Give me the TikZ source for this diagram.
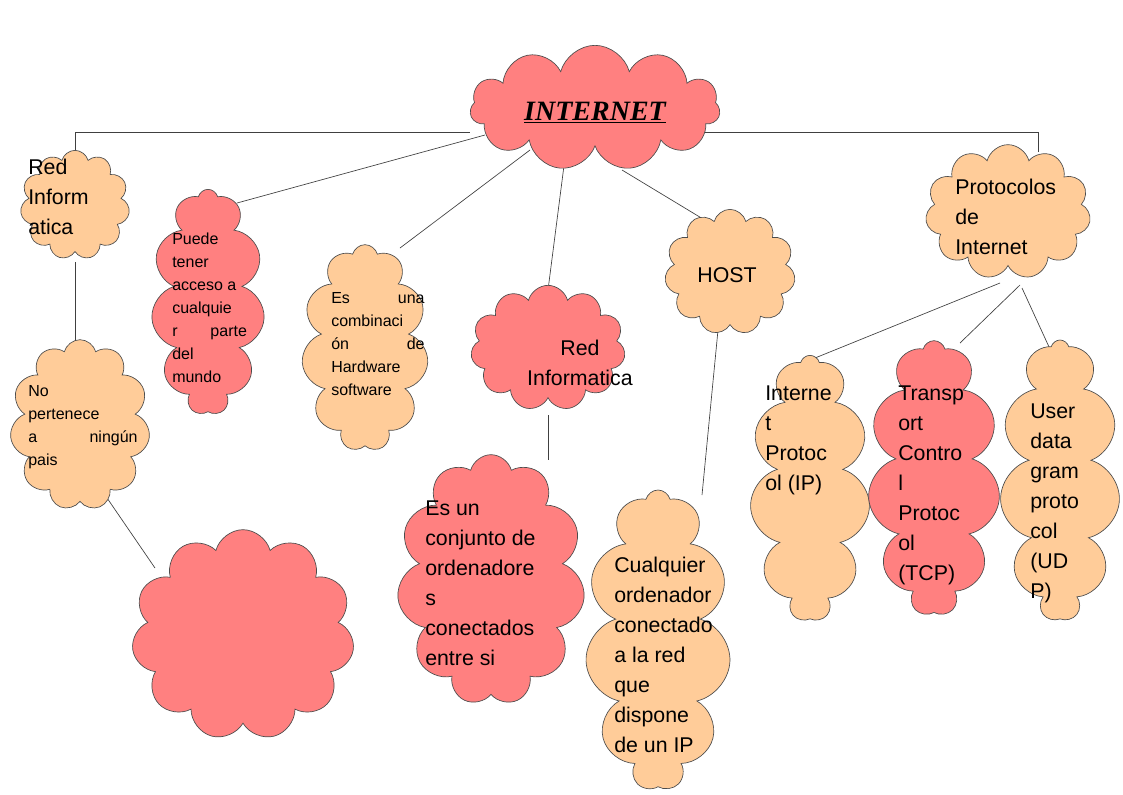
\documentclass[tikz,border=0pt]{standalone}
\usepackage{fontspec}
\setmainfont{Liberation Sans}
\newfontfamily\serifb{Liberation Serif}
\usetikzlibrary{shapes.symbols}
\definecolor{cred}{HTML}{FF8080}
\definecolor{cpeach}{HTML}{FFCC99}
\begin{document}
\begin{tikzpicture}[x=0.75pt,y=-0.75pt,
  cl/.style={cloud,cloud puffs=11,cloud ignores aspect,draw=black!70,line width=0.5pt,inner sep=0},
  redc/.style={cl,fill=cred},
  pc/.style={cl,fill=cpeach},
  big/.style={anchor=north west,align=left,inner sep=0,font=\fontsize{16}{22.5}\selectfont},
  sm/.style={anchor=north west,align=left,inner sep=0,font=\fontsize{12}{17.25}\selectfont},
  ln/.style={draw=black!75,line width=0.5pt}]
\useasboundingbox (0,0) rectangle (1123,794);
\fill[white] (0,0) rectangle (1123,794);
% connector coordinates
\coordinate (h1) at (75,132); \coordinate (h2) at (470,132);
\coordinate (h3) at (700,132); \coordinate (h4) at (1038,132);
\coordinate (a1) at (75,156); \coordinate (a2) at (1038,152);
\coordinate (p1) at (237,203); \coordinate (p2) at (485,135);
\coordinate (e1) at (400,248); \coordinate (e2) at (530,150);
\coordinate (r1) at (548,290); \coordinate (r2) at (566,150);
\coordinate (o1) at (708,222); \coordinate (o2) at (622,170);
\coordinate (l1) at (75,262); \coordinate (l2) at (75,342);
\coordinate (n1) at (105,495); \coordinate (n2) at (155,568);
\coordinate (c1) at (548,415); \coordinate (c2) at (548,460);
\coordinate (s1) at (718,330); \coordinate (s2) at (702,495);
\coordinate (t0) at (1000,283); \coordinate (t1) at (815,358);
\coordinate (u0) at (1020,285); \coordinate (u1) at (960,343);
\coordinate (v0) at (1022,288); \coordinate (v1) at (1055,360);
\draw[ln] (a1) -- (h1) -- (h2); \draw[ln] (h3) -- (h4) -- (a2);
\draw[ln] (p1)--(p2); \draw[ln] (e1)--(e2); \draw[ln] (r1)--(r2); \draw[ln] (o1)--(o2);
\draw[ln] (l1)--(l2); \draw[ln] (n1)--(n2); \draw[ln] (c1)--(c2); \draw[ln] (s1)--(s2);
\draw[ln] (t0)--(t1); \draw[ln] (u0)--(u1); \draw[ln] (v0)--(v1);
% clouds
\node[redc,minimum width=187.5pt,minimum height=94pt] (internet) at (595,108) {};
\node[pc,minimum width=82pt,minimum height=82pt] (redinf) at (75,205) {};
\node[redc,minimum width=85pt,minimum height=169pt] (puede) at (208,302) {};
\node[pc,minimum width=95pt,minimum height=155pt] (esuna) at (365,348) {};
\node[redc,minimum width=116pt,minimum height=94pt] (redc) at (548,348) {};
\node[pc,minimum width=98pt,minimum height=94pt] (host) at (730,272) {};
\node[pc,minimum width=124pt,minimum height=101pt] (proto) at (1008,212) {};
\node[pc,minimum width=105pt,minimum height=128pt] (nop) at (80,425) {};
\node[redc,minimum width=167pt,minimum height=158pt] (empty) at (243,635) {};
\node[redc,minimum width=141pt,minimum height=188pt] (conj) at (491,580) {};
\node[pc,minimum width=109pt,minimum height=225pt] (cual) at (658,640) {};
\node[pc,minimum width=90pt,minimum height=199pt] (ip) at (810,488) {};
\node[redc,minimum width=99pt,minimum height=206pt] (tcp) at (934,478) {};
\node[pc,minimum width=90pt,minimum height=210pt] (udp) at (1060,480) {};
% texts
\node[inner sep=0,font=\serifb\fontsize{21}{24}\selectfont\bfseries\itshape] (tint) at (595,113) {\underline{INTERNET}};
\node[big] (t1) at (28,159) {Red\\Inform\\atica};
\node[sm,text width=56pt,align=justify] (t2) at (172,233) {Puede\\tener\\acceso a\\cualquie\\r\hfill parte\\del\\mundo};
\node[sm,text width=70pt] (t3) at (331,292) {Es\hfill una\\combinaci\\ón\hfill de\\Hardware\\software};
\node[big,align=center,anchor=north] (t4) at (580,340) {Red\\Informatica};
\node[big,anchor=center] (t5) at (727,275) {HOST};
\node[big] (t6) at (955,179) {Protocolos\\de\\Internet};
\node[sm,text width=82pt] (t7) at (28,385) {No\\pertenece\\a\hfill ningún\\pais};
\node[big] (t8) at (425,501) {Es un\\conjunto de\\ordenadore\\s\\conectados\\entre si};
\node[big] (t9) at (614,557) {Cualquier\\ordenador\\conectado\\a la red\\que\\dispone\\de un IP};
\node[big] (t10) at (765,386) {Interne\\t\\Protoc\\ol (IP)};
\node[big] (t11) at (898,386) {Transp\\ort\\Contro\\l\\Protoc\\ol\\(TCP)};
\node[big] (t12) at (1030,404) {User\\data\\gram\\proto\\col\\(UD\\P)};
\end{tikzpicture}
\end{document}
